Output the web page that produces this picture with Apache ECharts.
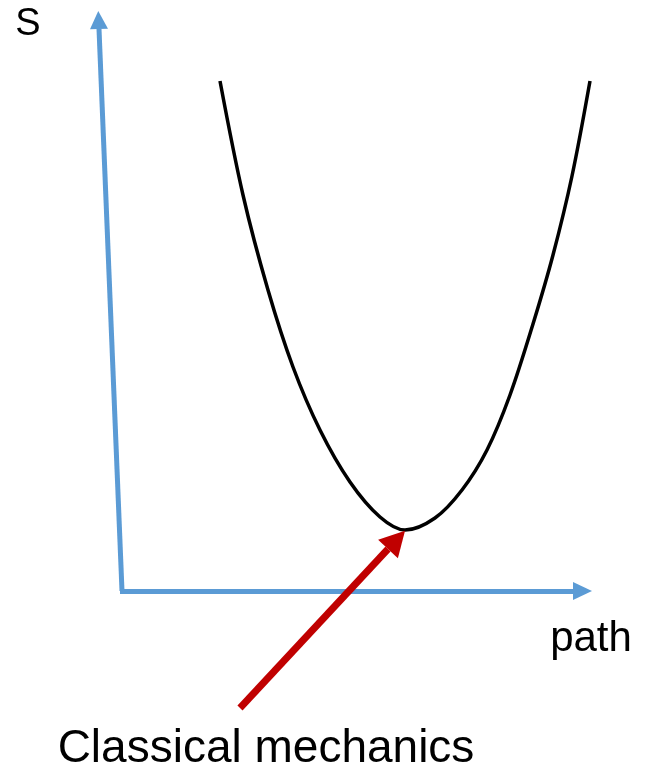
<!DOCTYPE html>
<html>
<head>
<meta charset="utf-8">
<script src="https://cdn.jsdelivr.net/npm/echarts@6/dist/echarts.min.js"></script>
<style>html,body{margin:0;padding:0;background:#fff;}#chart{width:648px;height:770px;}</style>
</head>
<body>
<div id="chart"></div>
<script>
// Action curve S(path) (x = path, y = S, picture units, y grows downward)
var curveX = [220, 243, 268, 293, 320, 350, 380, 405, 435, 462, 487, 510, 533, 553, 572, 590];
var curveY = [81, 195, 290, 367, 430, 482, 517, 530, 518, 490, 450, 395, 324, 255, 176, 81];

// Axis arrows: shaft start and arrow-head base
var sAxisFrom = [122, 591], sAxisTo = [99, 29];
var pathAxisFrom = [120, 591], pathAxisTo = [573, 591];
// Annotation arrow (tail -> head base)
var noteFrom = [240, 708], noteTo = [388, 549];

// Texts
var yName = 'S';
var xName = 'path';
var noteText = 'Classical mechanics';
var yNamePos = [28, 25];
var xNamePos = [591, 639];
var notePos = [266, 749];

var chart = echarts.init(document.getElementById('chart'));
var curve = curveX.map(function (x, i) { return [x, curveY[i]]; });
var font = '"Liberation Sans", Arial, sans-serif';

// arrow head placed beyond the shaft end, oriented along the shaft
function head(from, to, len, wid, color) {
  var dx = to[0] - from[0], dy = to[1] - from[1];
  var L = Math.sqrt(dx * dx + dy * dy);
  var ux = dx / L, uy = dy / L;
  return {
    value: [to[0] + ux * len / 2, to[1] + uy * len / 2],
    symbolRotate: Math.atan2(-dx, -dy) * 180 / Math.PI,
    symbolSize: [wid, len],
    itemStyle: { color: color, opacity: 1 }
  };
}

chart.setOption({
  animation: false,
  grid: { left: 0, top: 0, right: 0, bottom: 0 },
  xAxis: { type: 'value', min: 0, max: 648, show: false },
  yAxis: { type: 'value', min: 0, max: 770, inverse: true, show: false },
  series: [
    {
      type: 'line', data: curve, smooth: 0.33, symbol: 'none',
      lineStyle: { color: '#000', width: 3.5 }, z: 3
    },
    {
      type: 'lines', coordinateSystem: 'cartesian2d', symbol: 'none',
      lineStyle: { color: '#5B9BD5', width: 5, opacity: 1, cap: 'butt' },
      data: [{ coords: [sAxisFrom, sAxisTo] }, { coords: [pathAxisFrom, pathAxisTo] }],
      z: 2
    },
    {
      type: 'lines', coordinateSystem: 'cartesian2d', symbol: 'none',
      lineStyle: { color: '#C00000', width: 7, opacity: 1, cap: 'butt' },
      data: [{ coords: [noteFrom, noteTo] }],
      z: 4
    },
    {
      type: 'scatter', symbol: 'triangle', silent: true, z: 5,
      itemStyle: { opacity: 1 },
      data: [
        head(sAxisFrom, sAxisTo, 18, 18, '#5B9BD5'),
        head(pathAxisFrom, pathAxisTo, 19, 18, '#5B9BD5'),
        head(noteFrom, noteTo, 25, 27, '#C00000')
      ]
    }
  ],
  graphic: [
    { type: 'text', x: yNamePos[0], y: yNamePos[1], style: { text: yName, font: '38px ' + font, fill: '#000', align: 'center', verticalAlign: 'middle' } },
    { type: 'text', x: xNamePos[0], y: xNamePos[1], style: { text: xName, font: '42px ' + font, fill: '#000', align: 'center', verticalAlign: 'middle' } },
    { type: 'text', x: notePos[0], y: notePos[1], style: { text: noteText, font: '46px ' + font, fill: '#000', align: 'center', verticalAlign: 'middle' } }
  ]
});
</script>
</body>
</html>
